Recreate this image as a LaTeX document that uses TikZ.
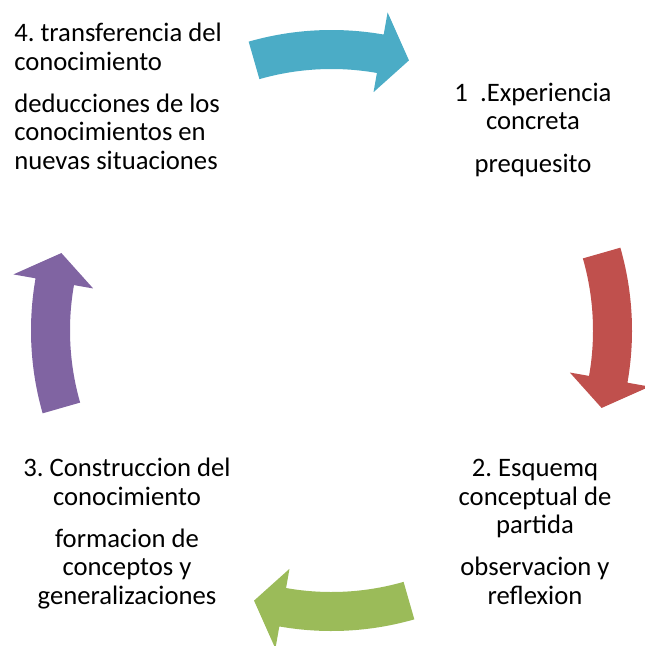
\documentclass[tikz,border=0pt]{standalone}
\usepackage{fontspec}
\setmainfont{Carlito}
\usepackage{xcolor}
\definecolor{blu}{HTML}{4BACC6}
\definecolor{rd}{HTML}{C0504D}
\definecolor{grn}{HTML}{9BBB59}
\definecolor{prp}{HTML}{8064A2}
\frenchspacing

\begin{document}
\begin{tikzpicture}[x=0.75pt,y=0.75pt,
		txt/.style={inner sep=0pt,font=\fontsize{20}{21.2}\selectfont}]
	\useasboundingbox (0,0) rectangle (645,-646);
	\begin{scope}[shift={(331.5,-330.5)}]
		% the four curved arrows, tail / head base / tip
		\foreach \T/\C in {106/blu, 16/rd, -74/grn, 196/prp}{
			\fill[\C] (\T:300.5) arc[start angle=\T, end angle=\T-26, radius=300.5]
				-- (\T-26:323) -- (\T-32:281) -- (\T-26:242) -- (\T-26:261.5)
				arc[start angle=\T-26, end angle=\T, radius=261.5] -- cycle;
		}
	\end{scope}
	% anchors sit on the last line
	\node[txt,anchor=base west,align=left] (transf) at (14,-169)
		{4. transferencia del\\conocimiento\\[10.5pt]deducciones de los\\conocimientos en\\nuevas situaciones};
	\node[txt,anchor=base,align=center] (exper) at (533,-172)
		{1\ \ .Experiencia\\concreta\\[10.5pt]prequesito};
	\node[txt,anchor=base,align=center] (esquema) at (535,-604)
		{2. Esquemq\\conceptual de\\partida\\[10.5pt]observacion y\\reflexion};
	\node[txt,anchor=base,align=center] (constr) at (127,-604)
		{3. Construccion del\\conocimiento\\[10.5pt]formacion de\\conceptos y\\generalizaciones};
\end{tikzpicture}
\end{document}
